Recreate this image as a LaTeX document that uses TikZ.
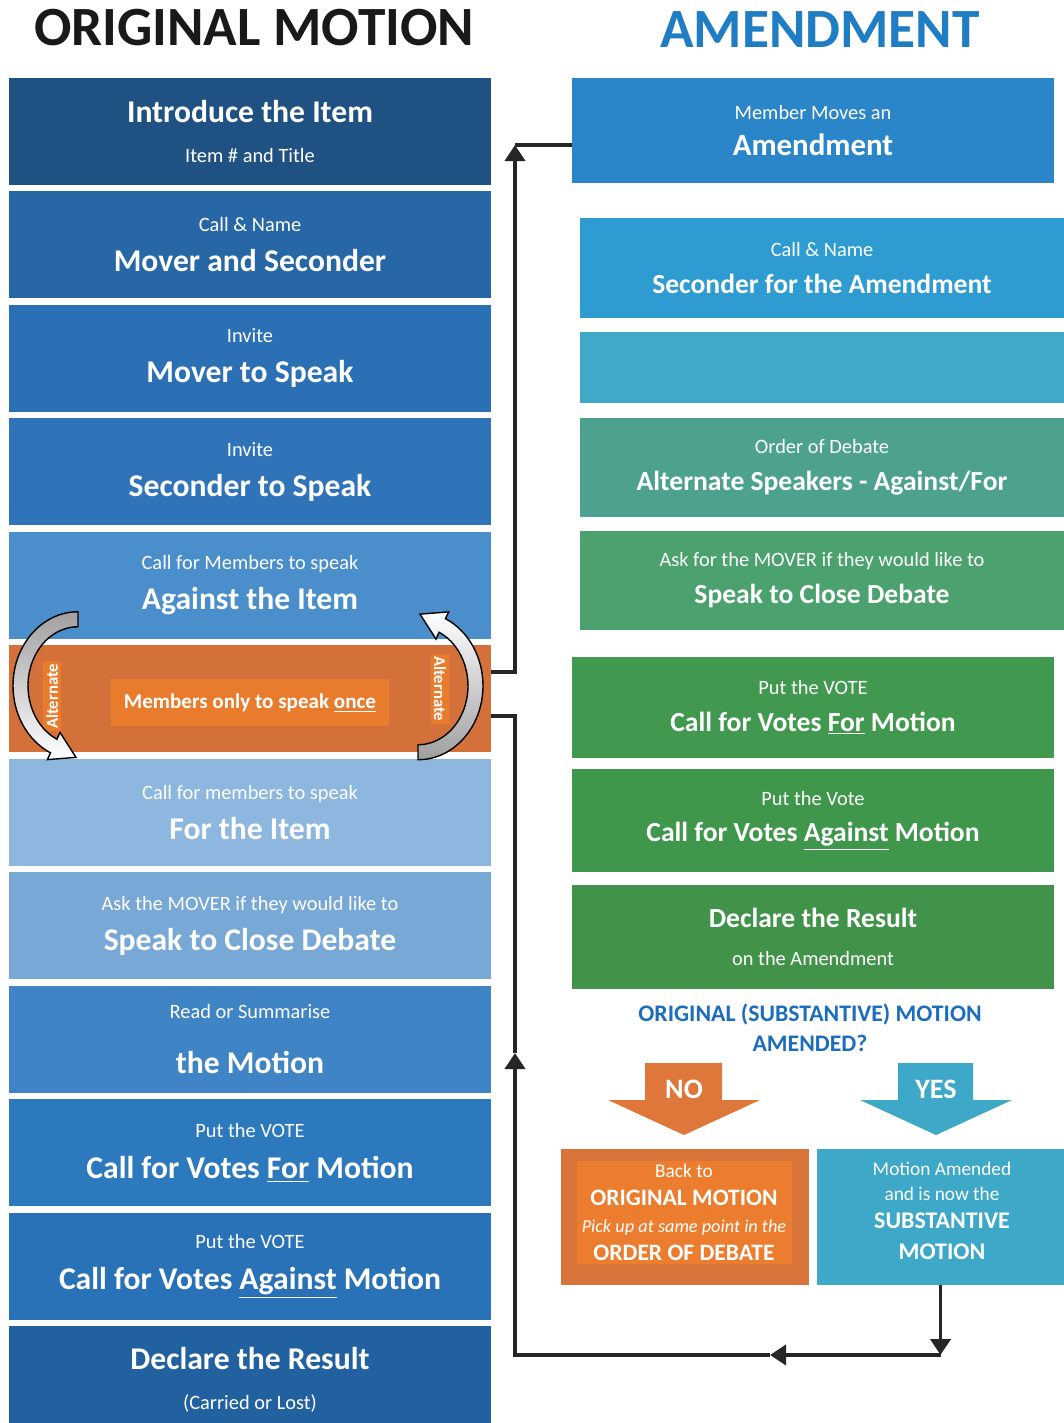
\documentclass[tikz,border=0pt]{standalone}
\usepackage{fontspec}
\setmainfont{Carlito}
\usepackage{tikz}
\usetikzlibrary{arrows.meta, positioning, calc}
\usepackage{xcolor}
% left column, dark to light and back
\definecolor{StepA}{HTML}{1F5283}
\definecolor{StepB}{HTML}{2767A6}
\definecolor{StepC}{HTML}{2B6FB4}
\definecolor{StepD}{HTML}{2F74B8}
\definecolor{StepE}{HTML}{4A8ECC}
\definecolor{StepG}{HTML}{8DB7DE}
\definecolor{StepH}{HTML}{77A8D6}
\definecolor{StepI}{HTML}{3F85C6}
\definecolor{StepJ}{HTML}{2D79BE}
\definecolor{StepK}{HTML}{2A72B8}
\definecolor{StepL}{HTML}{22619F}
\definecolor{BandOrange}{HTML}{D4713A}
\definecolor{BandInner}{HTML}{E97B2D}
% right column, blue to green
\definecolor{AmendA}{HTML}{2B86C9}
\definecolor{AmendB}{HTML}{2E9CD1}
\definecolor{AmendC}{HTML}{40A9C7}
\definecolor{AmendD}{HTML}{4DA28F}
\definecolor{AmendE}{HTML}{4BA26E}
\definecolor{AmendF}{HTML}{40994F}
\definecolor{AmendG}{HTML}{3F974B}
\definecolor{AmendH}{HTML}{409349}
\definecolor{AskBlue}{HTML}{1B6DBE}
\definecolor{TitleBlue}{HTML}{1F7DC4}
\definecolor{NoOrange}{HTML}{E0773A}
\definecolor{BackOrange}{HTML}{D8743A}
\definecolor{BackInner}{HTML}{EC7D2E}
\definecolor{YesTeal}{HTML}{3DA8C8}

\newcommand{\stepmain}{\fontsize{18}{23}\selectfont\bfseries}
\newcommand{\stepnote}{\fontsize{11.6}{23}\selectfont}
\newcommand{\amendmain}{\fontsize{15.7}{21}\selectfont\bfseries}
\newcommand{\amendnote}{\fontsize{11.6}{21}\selectfont}

\tikzset{
    % Column boxes
    stepbox/.style={
        rectangle,
        inner sep=0pt,
        outer sep=0pt,
        minimum width=9.64cm,
        minimum height=2.14cm,
        align=center,
        text=white,
        font=\fontsize{12}{23}\selectfont
    },
    amendbox/.style={
        rectangle,
        inner sep=0pt,
        outer sep=0pt,
        minimum width=9.64cm,
        align=center,
        text=white,
        font=\fontsize{12}{21}\selectfont
    },
    outcome/.style={
        rectangle,
        inner sep=0pt,
        outer sep=0pt,
        minimum width=4.96cm,
        minimum height=2.72cm,
        align=center,
        text=white
    },
    headline/.style={
        font=\fontsize{31.5}{36}\selectfont\bfseries,
        inner sep=0pt
    },
    altlabel/.style={
        fill=BandInner,
        text=white,
        inner sep=1.5pt,
        font=\fontsize{9.5}{10}\selectfont\bfseries
    },
    verdict/.style={
        text=white,
        font=\fontsize{16}{18}\selectfont\bfseries
    },
    swing/.style={
        draw=black,
        line width=0.8pt
    },
    % Connectors
    flowline/.style={
        draw=black!85,
        line width=2.2pt
    },
    flowarrow/.style={
        flowline,
        -{Triangle[length=0.32cm, width=0.4cm]}
    }
}

\begin{document}
\begin{tikzpicture}
    \path[use as bounding box, fill=white] (0,0) rectangle (21.28,-28.46);

    % Headings
    \node[headline, text=black!90] (origTitle) at (5.08,-0.56) {ORIGINAL MOTION};
    \node[headline, text=TitleBlue] (amendTitle) at (16.4,-0.6) {AMENDMENT};

    % Original motion
    \node[stepbox, fill=StepA] (intro) at (5.0,-2.625) {{\stepmain Introduce the Item}\\{\stepnote Item \# and Title}};
    \node[stepbox, fill=StepB, below=0.13cm of intro] (mover) {{\stepnote Call \& Name}\\{\stepmain Mover and Seconder}};
    \node[stepbox, fill=StepC, below=0.13cm of mover] (moverSpeak) {{\stepnote Invite}\\{\stepmain Mover to Speak}};
    \node[stepbox, fill=StepD, below=0.13cm of moverSpeak] (seconderSpeak) {{\stepnote Invite}\\{\stepmain Seconder to Speak}};
    \node[stepbox, fill=StepE, below=0.13cm of seconderSpeak] (against) {{\stepnote Call for Members to speak}\\{\stepmain Against the Item}};
    \node[stepbox, fill=BandOrange, below=0.13cm of against] (band) {};
    \node[fill=BandInner, text=white, minimum width=5.56cm, minimum height=0.94cm, font=\fontsize{12}{14}\selectfont\bfseries] (once) at ($(band.center)+(0,-0.08)$) {Members only to speak \underline{once}};
    \node[stepbox, fill=StepG, below=0.13cm of band] (forItem) {{\stepnote Call for members to speak}\\{\stepmain For the Item}};
    \node[stepbox, fill=StepH, below=0.13cm of forItem] (closeDebate) {{\stepnote Ask the MOVER if they would like to}\\{\stepmain Speak to Close Debate}};
    \node[stepbox, fill=StepI, below=0.13cm of closeDebate] (summarise) {{\stepnote Read or Summarise}\\[8pt]{\stepmain the Motion}};
    \node[stepbox, fill=StepJ, below=0.13cm of summarise] (votesFor) {{\stepnote Put the VOTE}\\{\stepmain Call for Votes \underline{For} Motion}};
    \node[stepbox, fill=StepK, below=0.13cm of votesFor] (votesAgainst) {{\stepnote Put the VOTE}\\{\stepmain Call for Votes \underline{Against} Motion}};
    \node[stepbox, fill=StepL, below=0.13cm of votesAgainst] (declare) {{\stepmain Declare the Result}\\{\stepnote (Carried or Lost)}};

    % Alternate labels and swing arrows round the orange band
    \node[altlabel, rotate=90] (altLeft) at ($(band.center)+(-3.96,0.05)$) {Alternate};
    \node[altlabel, rotate=-90] (altRight) at ($(band.center)+(3.8,0.2)$) {Alternate};
    \coordinate (swingL) at ($(band.center)+(-3.44,0.26)$);
    \coordinate (swingR) at ($(band.center)+(3.36,0.26)$);
    \draw[swing, top color=gray!75, bottom color=white]
        ($(swingL)+(90:1.3 and 1.48)$) arc[start angle=90, end angle=245, x radius=1.3, y radius=1.48]
        -- ($(swingL)+(245:1.45 and 1.63)$)
        -- ($(swingL)+(245:1.15 and 1.33)+(-27:0.5)$)
        -- ($(swingL)+(245:0.85 and 1.03)$)
        -- ($(swingL)+(245:1.0 and 1.18)$)
        arc[start angle=245, end angle=90, x radius=1.0, y radius=1.18]
        -- cycle;
    \draw[swing, top color=white, bottom color=gray!75]
        ($(swingR)+(-90:1.3 and 1.48)$) arc[start angle=-90, end angle=65, x radius=1.3, y radius=1.48]
        -- ($(swingR)+(65:1.45 and 1.63)$)
        -- ($(swingR)+(65:1.15 and 1.33)+(153:0.5)$)
        -- ($(swingR)+(65:0.85 and 1.03)$)
        -- ($(swingR)+(65:1.0 and 1.18)$)
        arc[start angle=65, end angle=-90, x radius=1.0, y radius=1.18]
        -- cycle;

    % Amendment
    \node[amendbox, fill=AmendA, minimum height=2.10cm] (amend) at (16.26,-2.61) {{\amendnote Member Moves an}\\{\fontsize{17.6}{21}\selectfont\bfseries Amendment}};
    \node[amendbox, fill=AmendB, minimum width=9.68cm, minimum height=2.0cm] (amSeconder) at (16.44,-5.36) {{\amendnote Call \& Name}\\{\amendmain Seconder for the Amendment}};
    \node[amendbox, fill=AmendC, minimum width=9.68cm, minimum height=1.42cm] (amBlank) at (16.44,-7.35) {};
    \node[amendbox, fill=AmendD, minimum width=9.68cm, minimum height=1.98cm] (amOrder) at (16.44,-9.35) {{\amendnote Order of Debate}\\{\amendmain Alternate Speakers - Against/For}};
    \node[amendbox, fill=AmendE, minimum width=9.68cm, minimum height=1.98cm] (amClose) at (16.44,-11.61) {{\amendnote Ask for the MOVER if they would like to}\\{\amendmain Speak to Close Debate}};
    \node[amendbox, fill=AmendF, minimum height=2.02cm] (amFor) at (16.26,-14.15) {{\amendnote Put the VOTE}\\{\amendmain Call for Votes \underline{For} Motion}};
    \node[amendbox, fill=AmendG, minimum height=2.06cm] (amAgainst) at (16.26,-16.41) {{\amendnote Put the Vote}\\{\amendmain Call for Votes \underline{Against} Motion}};
    \node[amendbox, fill=AmendH, minimum height=2.08cm] (amDeclare) at (16.26,-18.74) {{\amendmain Declare the Result}\\[1pt]{\amendnote on the Amendment}};

    % Question and outcomes
    \node[align=center, text=AskBlue, font=\fontsize{13.5}{17}\selectfont\bfseries] (ask) at (16.2,-20.56) {ORIGINAL (SUBSTANTIVE) MOTION\\AMENDED?};
    \fill[NoOrange] (12.9,-21.26) -- (14.44,-21.26) -- (14.44,-22.0) -- (15.2,-22.0) -- (13.68,-22.7) -- (12.16,-22.0) -- (12.9,-22.0) -- cycle;
    \fill[YesTeal] (17.96,-21.26) -- (19.46,-21.26) -- (19.46,-22.0) -- (20.24,-22.0) -- (18.72,-22.7) -- (17.2,-22.0) -- (17.96,-22.0) -- cycle;
    \node[verdict] (no) at (13.68,-21.78) {NO};
    \node[verdict] (yes) at (18.72,-21.78) {YES};

    \node[outcome, fill=BackOrange] (back) at (13.7,-24.34) {};
    \node[fill=BackInner, text=white, align=center, inner sep=2pt, minimum width=4.3cm, font=\fontsize{11}{15.7}\selectfont] (backText) at (13.68,-24.25)
        {Back to\\{\fontsize{13.4}{15.7}\selectfont\bfseries ORIGINAL MOTION}\\{\fontsize{10.4}{15.7}\selectfont\itshape Pick up at same point in the}\\{\fontsize{13.4}{15.7}\selectfont\bfseries ORDER OF DEBATE}};
    \node[outcome, fill=YesTeal, minimum width=4.94cm] (subst) at (18.81,-24.34) {};
    \node[text=white, align=center, inner sep=0pt, font=\fontsize{11}{14}\selectfont] (substText) at (18.84,-24.22)
        {Motion Amended\\[0pt]and is now the\\[2pt]{\fontsize{13.6}{14}\selectfont\bfseries SUBSTANTIVE}\\[3.5pt]{\fontsize{13.6}{14}\selectfont\bfseries MOTION}};

    % Connectors
    \coordinate (riseTop) at (10.3,-2.9);
    \coordinate (riseBot) at (10.3,-13.44);
    \draw[flowarrow] (band.east |- riseBot) -- (riseBot) -- (riseTop);
    \draw[flowline] (riseTop) -- (amend.west |- riseTop);

    \coordinate (retR) at (subst.south |- 0,-27.1);
    \coordinate (retMid) at (15.4,-27.1);
    \coordinate (retL) at (10.3,-27.1);
    \coordinate (retUp) at (10.3,-21.06);
    \coordinate (retIn) at (10.3,-14.32);
    \draw[flowarrow] (subst.south) -- (retR);
    \draw[flowarrow] (retR) -- (retMid);
    \draw[flowarrow] (retMid) -- (retL) -- (retUp);
    \draw[flowline] (retUp) -- (retIn) -- (band.east |- retIn);
\end{tikzpicture}
\end{document}
